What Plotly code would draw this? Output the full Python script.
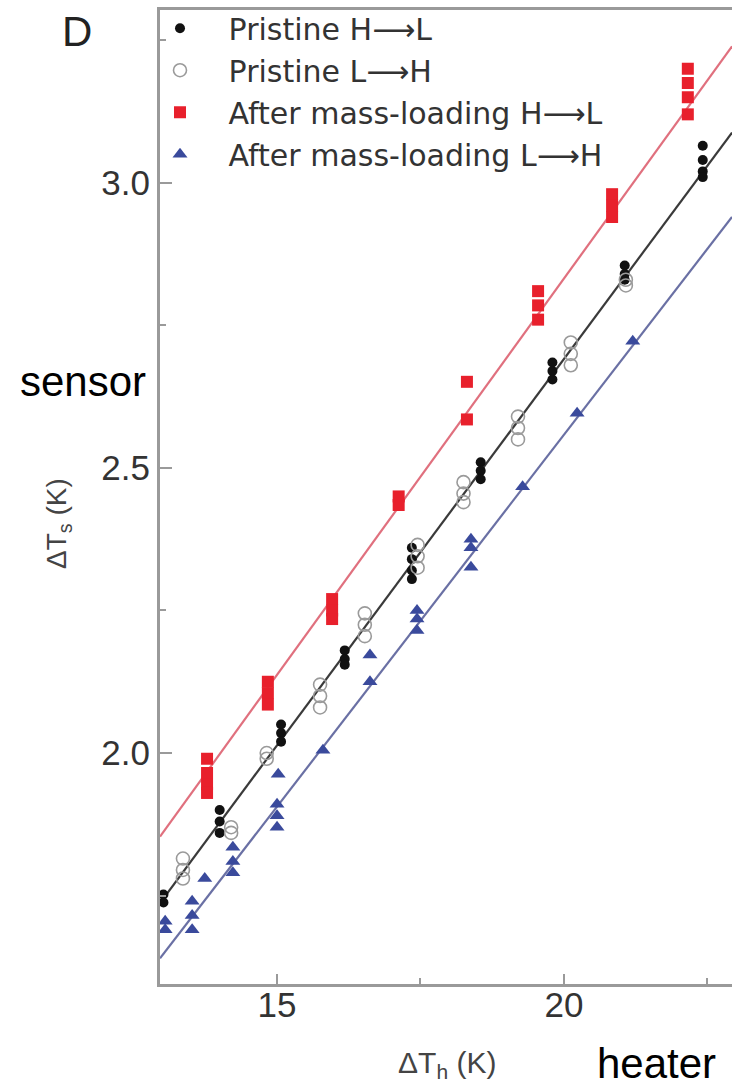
import plotly.graph_objects as go

# ---------------- data ----------------
ph_x = [13.02, 13.02, 14.0, 14.0, 14.0, 15.07, 15.07, 15.07, 16.18, 16.18, 16.18,
        17.35, 17.35, 17.35, 17.35, 18.55, 18.55, 18.55, 19.8, 19.8, 19.8,
        21.06, 21.06, 21.06, 22.42, 22.42, 22.42, 22.42]
ph_y = [1.752, 1.738, 1.90, 1.88, 1.86, 2.05, 2.035, 2.02, 2.18, 2.165, 2.155,
        2.36, 2.34, 2.32, 2.305, 2.51, 2.495, 2.48, 2.685, 2.67, 2.655,
        2.855, 2.84, 2.83, 3.065, 3.04, 3.02, 3.01]

pl_x = [13.36, 13.36, 13.36, 14.2, 14.2, 14.82, 14.82, 15.75, 15.75, 15.75,
        16.53, 16.53, 16.53, 17.45, 17.45, 17.45, 18.25, 18.25, 18.25,
        19.2, 19.2, 19.2, 20.12, 20.12, 20.12, 21.08, 21.08]
pl_y = [1.815, 1.795, 1.78, 1.87, 1.86, 2.0, 1.99, 2.12, 2.10, 2.08,
        2.245, 2.225, 2.205, 2.365, 2.345, 2.325, 2.475, 2.455, 2.44,
        2.59, 2.57, 2.55, 2.72, 2.70, 2.68, 2.83, 2.82]

mh_x = [13.78, 13.78, 13.78, 13.78, 14.84, 14.84, 14.84, 15.96, 15.96, 15.96,
        17.12, 17.12, 18.31, 18.31, 19.55, 19.55, 19.55, 20.84, 20.84, 20.84,
        22.16, 22.16, 22.16, 22.16]
mh_y = [1.99, 1.965, 1.945, 1.93, 2.125, 2.105, 2.085, 2.27, 2.25, 2.235,
        2.45, 2.435, 2.651, 2.585, 2.81, 2.785, 2.76, 2.98, 2.96, 2.94,
        3.20, 3.175, 3.15, 3.12]

ml_x = [13.05, 13.05, 13.52, 13.52, 13.52, 13.74, 14.23, 14.23, 14.23,
        15.0, 15.0, 15.0, 15.02, 15.8, 16.62, 16.62, 17.44, 17.44, 17.44,
        18.38, 18.38, 18.38, 19.28, 20.23, 21.2]
ml_y = [1.705, 1.69, 1.74, 1.715, 1.69, 1.78, 1.835, 1.81, 1.79,
        1.91, 1.89, 1.87, 1.963, 2.005, 2.172, 2.125, 2.25, 2.235, 2.215,
        2.375, 2.36, 2.326, 2.467, 2.596, 2.722]

# linear fits (slope, intercept): pristine, mass-loaded H->L, mass-loaded L->H
fit_slope = [0.1355, 0.139, 0.1304]
fit_intercept = [-0.019, 0.052, -0.050]
fit_colors = ["#3a3a3a", "#e0707e", "#6a70a4"]

x_range = [12.96, 22.93]
y_range = [1.595, 3.303]
x_ticks = [15, 20]
x_minor = [17.5, 22.5]
y_ticks = [2.0, 2.5, 3.0]
y_ticklabels = ["2.0", "2.5", "3.0"]
y_minor = [1.75, 2.25, 2.75, 3.25]

ARROW = "\u27f6"
series_names = ["Pristine H" + ARROW + "L", "Pristine L" + ARROW + "H",
                "After mass-loading H" + ARROW + "L", "After mass-loading L" + ARROW + "H"]

# ---------------- geometry helpers ----------------
W, H = 732, 1092
ML, MT, MB = 160, 10, 108
PW, PH = W - ML, H - MT - MB


def px(xp):
    return (xp - ML) / PW


def py(yp):
    return (H - MB - yp) / PH


# ---------------- figure ----------------
fig = go.Figure()

for s, b, c in zip(fit_slope, fit_intercept, fit_colors):
    fig.add_trace(go.Scatter(
        x=x_range, y=[s * x_range[0] + b, s * x_range[1] + b],
        mode="lines", line=dict(color=c, width=2.2),
        showlegend=False, hoverinfo="skip"))

pad = "\u00a0\u00a0\u00a0"
fig.add_trace(go.Scatter(x=ph_x, y=ph_y, mode="markers", name=pad + series_names[0],
                         marker=dict(symbol="circle", size=10, color="#111111")))
fig.add_trace(go.Scatter(x=pl_x, y=pl_y, mode="markers", name=pad + series_names[1],
                         marker=dict(symbol="circle-open", size=13, color="#9a9a9a",
                                     line=dict(width=1.6))))
fig.add_trace(go.Scatter(x=mh_x, y=mh_y, mode="markers", name=pad + series_names[2],
                         marker=dict(symbol="square", size=12, color="#e8202c")))
fig.add_trace(go.Scatter(x=ml_x, y=ml_y, mode="markers", name=pad + series_names[3],
                         marker=dict(symbol="triangle-up", size=13, color="#3a4a9c")))

axis_line = "#9a9a9a"
FONT = "Liberation Sans, Arial, sans-serif"
tick_font = dict(family=FONT, size=35, color="#333333")

fig.update_layout(
    width=W, height=H,
    margin=dict(l=ML, r=0, t=MT, b=MB, pad=0),
    plot_bgcolor="white", paper_bgcolor="white",
    showlegend=True,
    legend=dict(x=0.0, y=1.008, xanchor="left", yanchor="top",
                bgcolor="rgba(0,0,0,0)", borderwidth=0,
                font=dict(family="DejaVu Sans, sans-serif", size=30, color="#333333"),
                itemwidth=30, tracegroupgap=0),
    xaxis=dict(range=x_range, tickvals=x_ticks, ticks="inside", ticklen=10, tickwidth=2,
               tickcolor=axis_line, showline=True, linecolor=axis_line, linewidth=3,
               mirror=True, showgrid=False, zeroline=False, tickfont=tick_font,
               ticklabelstandoff=-12,
               minor=dict(tickvals=x_minor, ticks="inside", ticklen=6,
                          tickcolor=axis_line, tickwidth=2, showgrid=False)),
    yaxis=dict(range=y_range, tickvals=y_ticks, ticktext=y_ticklabels, ticks="inside",
               ticklen=12, tickwidth=2, tickcolor=axis_line, showline=True,
               linecolor=axis_line, linewidth=3, showgrid=False, zeroline=False,
               tickfont=tick_font,
               minor=dict(tickvals=y_minor, ticks="inside", ticklen=6,
                          tickcolor=axis_line, tickwidth=2, showgrid=False)),
)


def note(text, xp, yp, size, color, angle=0):
    fig.add_annotation(text=text, xref="paper", yref="paper", x=px(xp), y=py(yp),
                       xanchor="center", yanchor="middle", textangle=angle,
                       showarrow=False, font=dict(family=FONT, size=size, color=color))


note("D", 77, 32, 42, "#222222")
note("sensor", 83, 381, 42, "#000000")
note("heater", 656, 1063, 42, "#000000")
note("\u0394T<sub>h</sub>\u00a0(K)", 447, 1064, 30, "#444444")
note("\u0394T<sub>s</sub>\u00a0(K)", 58, 524, 28, "#444444", angle=-90)

fig.write_html(
    "out.html",
    config={"displayModeBar": False},
    post_script="document.body.style.margin='0';"
                "document.body.style.overflow='hidden';"
                "document.documentElement.style.overflow='hidden';",
)
